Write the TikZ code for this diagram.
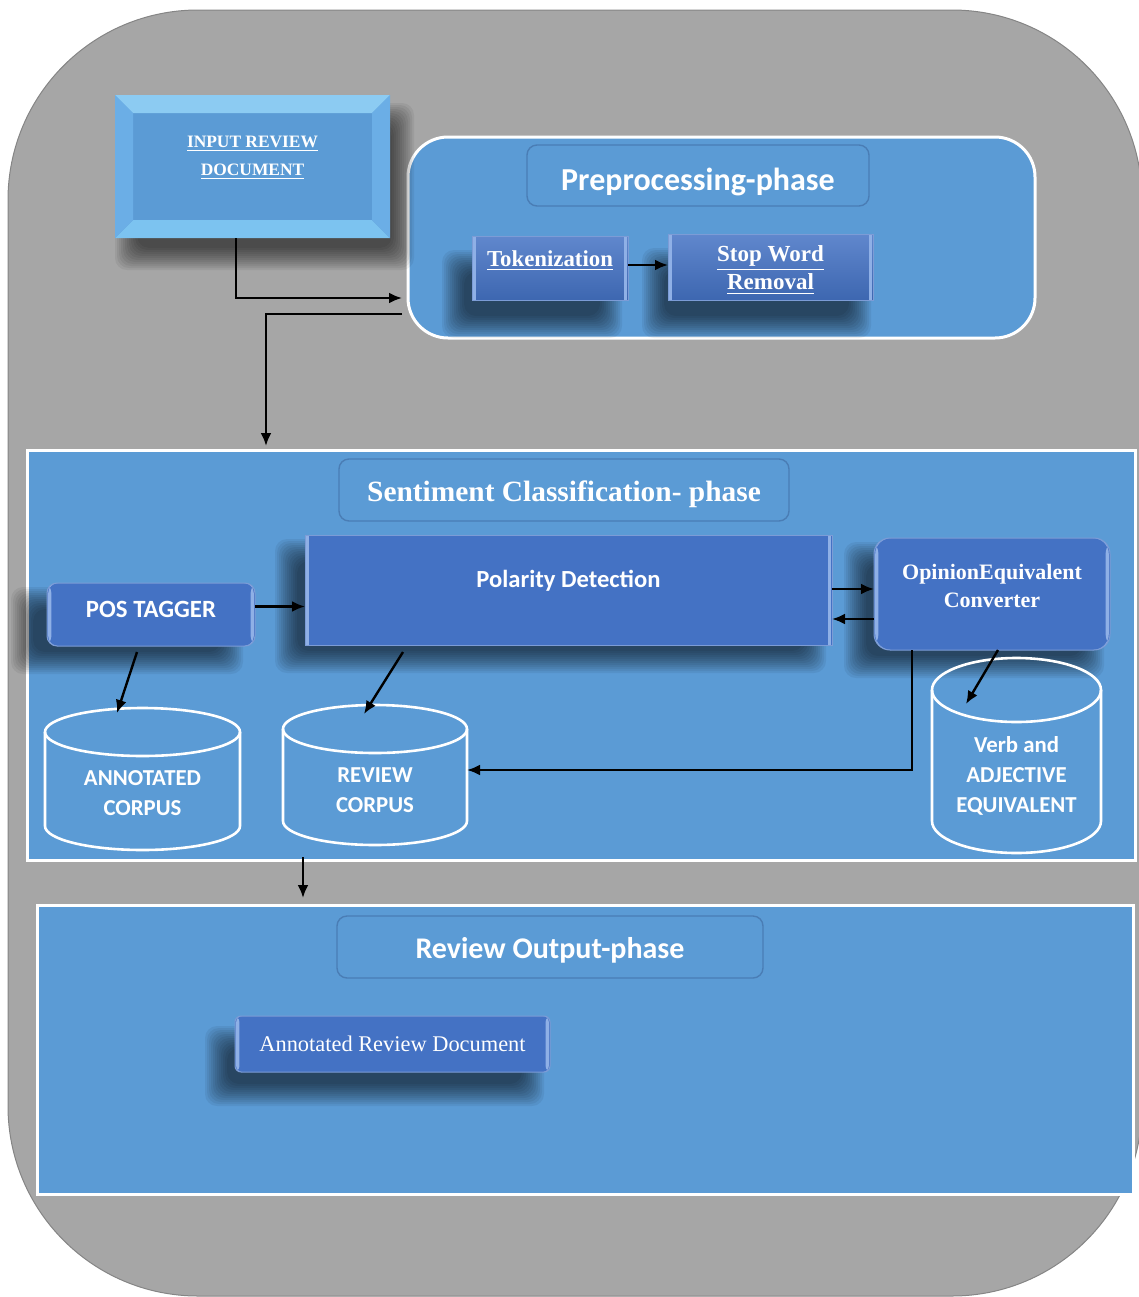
\documentclass[tikz,border=0pt]{standalone}
\usepackage{fontspec}
\setmainfont{Liberation Serif}
\setsansfont{Carlito}
\usetikzlibrary{arrows.meta,calc}

\definecolor{bggray}{HTML}{A6A6A6}
\definecolor{panel}{HTML}{5B9BD5}
\definecolor{boxblue}{HTML}{4472C4}
\definecolor{titleedge}{HTML}{4A7DB5}
\definecolor{strip}{HTML}{8FB0E6}
\definecolor{bevtop}{HTML}{8CCBF2}
\definecolor{bevbot}{HTML}{7CC3F0}
\definecolor{bevside}{HTML}{6BAEE6}

\pgfdeclarelayer{base}
\pgfdeclarelayer{shades}
\pgfsetlayers{base,shades,main}

\tikzset{
  panelbox/.style={fill=panel, draw=white, line width=1.5pt, inner sep=0pt, outer sep=0pt},
  titlebox/.style={fill=panel, draw=titleedge, line width=0.7pt, rounded corners=5pt,
    inner sep=0pt, outer sep=0pt},
  label text/.style={text=white, align=center, inner sep=0pt},
  edgestrips/.style={path picture={
      \fill[strip] ([xshift=0.6pt]path picture bounding box.north west) rectangle
        ([xshift=2.2pt]path picture bounding box.south west);
      \fill[strip] ([xshift=-2.2pt]path picture bounding box.north east) rectangle
        ([xshift=-0.6pt]path picture bounding box.south east);}},
  bluebox/.style={fill=boxblue, draw=boxblue!70!white, line width=0.5pt, text=white,
    inner sep=0pt, outer sep=0pt, align=center, edgestrips},
  gradbox/.style={bluebox, top color=boxblue!85!white, bottom color=boxblue!90!black},
  drumbox/.style={inner sep=0pt, outer sep=0pt},
  drumline/.style={draw=white, line width=1.3pt},
  drumtext/.style={label text, font=\sffamily\bfseries\fontsize{11.4}{15}\selectfont},
  arr/.style={-{Latex[length=6.5pt,width=5.5pt]}, line width=1.2pt, black},
}

% soft shadow under a node: node name, x offset, y offset (pt)
\newcommand\castshadow[3]{%
  \begin{pgfonlayer}{shades}
  \foreach \s in {-5,-4,...,6}{
    \fill[black, opacity=0.06, rounded corners=6pt]
      ([xshift=#2-(\s)*1pt, yshift=#3-(\s)*1pt]#1.south west) rectangle
      ([xshift=#2+(\s)*1pt, yshift=#3+(\s)*1pt]#1.north east);
  }
  \end{pgfonlayer}}

% database drum: name, position, width, height, cap radius (pt), text, text shift (pt)
\newcommand\drum[7]{%
  \node[drumbox, minimum width=#3pt, minimum height=#4pt] (#1) at #2 {};
  \draw[drumline] ([yshift=-#5pt]#1.north) ellipse [x radius=#3pt/2, y radius=#5pt];
  \draw[drumline] ([yshift=-#5pt]#1.north west) -- ([yshift=#5pt]#1.south west)
    arc[start angle=180, end angle=360, x radius=#3pt/2, y radius=#5pt]
    -- ([yshift=-#5pt]#1.north east);
  \node[drumtext] at ([yshift=#7pt]#1.center) {#6};
}

\begin{document}
\begin{tikzpicture}[x=0.5pt, y=-0.5pt]
\useasboundingbox (0,0) rectangle (1139,1297);

\begin{pgfonlayer}{base}
% grey backdrop
\fill[bggray, rounded corners=95pt] (8,10) rectangle (1142,1296);
\draw[bggray!80!black, line width=0.5pt, rounded corners=95pt] (8,10) rectangle (1142,1296);
% phase panels
\node[panelbox, rounded corners=20pt, minimum width=313.5pt, minimum height=100.5pt]
  (pre) at (721.5,237.5) {};
\node[panelbox, minimum width=554pt, minimum height=205pt] (sent) at (581,655) {};
\node[panelbox, minimum width=548pt, minimum height=144.5pt] (out) at (585,1049.5) {};
\end{pgfonlayer}

% bevelled input document
\node[fill=panel, inner sep=0pt, outer sep=0pt, minimum width=137.5pt, minimum height=71.5pt]
  (input) at (252.5,166.5) {};
\fill[bevtop] (input.north west) -- (input.north east) -- ([xshift=-9pt,yshift=-9pt]input.north east)
  -- ([xshift=9pt,yshift=-9pt]input.north west) -- cycle;
\fill[bevbot] (input.south west) -- (input.south east) -- ([xshift=-9pt,yshift=9pt]input.south east)
  -- ([xshift=9pt,yshift=9pt]input.south west) -- cycle;
\fill[bevside] (input.north west) -- ([xshift=9pt,yshift=-9pt]input.north west)
  -- ([xshift=9pt,yshift=9pt]input.south west) -- (input.south west) -- cycle;
\fill[bevside] (input.north east) -- ([xshift=-9pt,yshift=-9pt]input.north east)
  -- ([xshift=-9pt,yshift=9pt]input.south east) -- (input.south east) -- cycle;
\node[label text, font=\bfseries\fontsize{8.7}{14}\selectfont]
  at ([yshift=4.2pt]input.center) {\underline{INPUT REVIEW}\\\underline{DOCUMENT}};
\castshadow{input}{6pt}{-10pt}

% preprocessing phase
\node[titlebox, minimum width=171pt, minimum height=30.5pt] (pretitle) at (698,175.5) {};
\node[label text, font=\sffamily\bfseries\fontsize{16}{18}\selectfont]
  at ([yshift=-3pt]pretitle.center) {Preprocessing-phase};
\node[gradbox, minimum width=78pt, minimum height=32pt] (tok) at (550,268) {};
\node[label text, font=\bfseries\fontsize{11.4}{14}\selectfont]
  at ([yshift=3.5pt]tok.center) {\underline{Tokenization}};
\node[gradbox, minimum width=102.5pt, minimum height=33pt] (stop) at (770.5,267) {};
\node[label text, font=\bfseries\fontsize{11.5}{14}\selectfont]
  at ([yshift=-1.5pt]stop.center) {\underline{Stop Word}\\\underline{Removal}};
\castshadow{tok}{-9pt}{-13pt}
\castshadow{stop}{-7pt}{-13pt}
\draw[arr] ([yshift=1.5pt]tok.east) -- ([yshift=1.5pt]tok.east -| stop.west);

% sentiment classification phase
\node[titlebox, minimum width=225pt, minimum height=31pt] (senttitle) at (564,490) {};
\node[label text, font=\bfseries\fontsize{14.7}{16}\selectfont]
  at ([yshift=-2pt]senttitle.center) {Sentiment Classification- phase};
\node[bluebox, minimum width=263.5pt, minimum height=55pt] (pol) at (568.5,590) {};
\node[label text, font=\sffamily\bfseries\fontsize{12.3}{14}\selectfont]
  at ([yshift=4.5pt]pol.center) {Polarity Detection};
\node[bluebox, rounded corners=5pt, minimum width=104pt, minimum height=31.5pt] (pos) at (151,614.5) {};
\node[label text, font=\sffamily\bfseries\fontsize{12.4}{14}\selectfont]
  at ([yshift=2.5pt]pos.center) {POS TAGGER};
\node[bluebox, rounded corners=8pt, minimum width=118pt, minimum height=56pt] (opin) at (992,594) {};
\node[label text, font=\bfseries\fontsize{11}{14}\selectfont]
  at ([yshift=4pt]opin.center) {OpinionEquivalent\\Converter};
\castshadow{pol}{-9pt}{-8pt}
\castshadow{pos}{-12pt}{-8pt}
\castshadow{opin}{-9pt}{-8pt}

\drum{annc}{(142.5,779)}{97.5}{71}{12}{ANNOTATED\\CORPUS}{-7}
\drum{revc}{(375,775)}{92}{70}{12}{REVIEW\\CORPUS}{-7.5}
\drum{verb}{(1016.5,755.5)}{84.5}{97.5}{16}{Verb and\\ADJECTIVE\\EQUIVALENT}{-10}

% review output phase
\node[titlebox, minimum width=213pt, minimum height=31pt] (outtitle) at (550,947) {};
\node[label text, font=\sffamily\bfseries\fontsize{15}{17}\selectfont]
  at ([yshift=-1.5pt]outtitle.center) {Review Output-phase};
\node[bluebox, rounded corners=3pt, minimum width=157.5pt, minimum height=28pt,
      font=\fontsize{11.2}{14}\selectfont]
  (ard) at (392.5,1044) {Annotated Review Document};
\castshadow{ard}{-9pt}{-11pt}

% connectors
\draw[arr] ([xshift=-8.25pt]input.south) |- ([xshift=-3pt,yshift=-30.25pt]pre.west);
\draw[arr] ([xshift=-3pt,yshift=-38.25pt]pre.west) -| ([xshift=-157.5pt,yshift=2pt]sent.north);
\draw[arr] ([yshift=4pt]pos.east) -- ([yshift=4pt]pos.east -| pol.west);
\draw[arr] ([yshift=0.5pt]pol.east) -- ([yshift=0.5pt]pol.east -| opin.west);
\draw[arr] ([yshift=-14.5pt]pol.east -| opin.west) -- ([yshift=-14.5pt]pol.east);
\draw[arr] ([xshift=-40pt]opin.south) |- ([yshift=2.5pt]revc.east);
\draw[arr] ([xshift=-7pt,yshift=-3pt]pos.south) -- ([xshift=-12.75pt,yshift=-2.5pt]annc.north);
\draw[arr] ([xshift=-82.75pt,yshift=-3.5pt]pol.south) -- ([xshift=-5.5pt,yshift=-4.5pt]revc.north);
\draw[arr] ([xshift=3pt]opin.south) -- ([xshift=-25.25pt,yshift=-23pt]verb.north);
\coordinate (o1) at ([xshift=-139pt,yshift=1.5pt]sent.south);
\coordinate (o2) at ([yshift=3.5pt]out.north);
\draw[arr] (o1) -- (o1 |- o2);
\end{tikzpicture}
\end{document}
